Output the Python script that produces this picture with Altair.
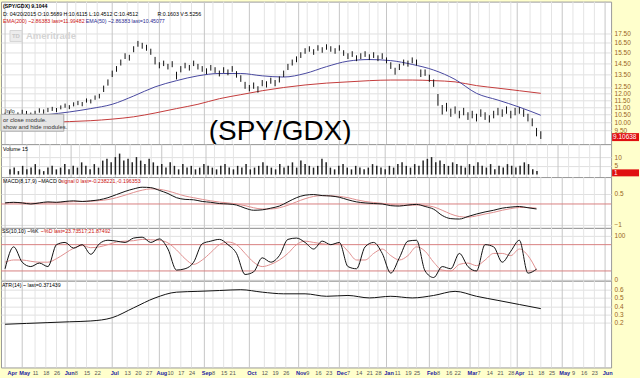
import altair as alt
import pandas as pd
import numpy as np

# ---------------- calendar / x axis ----------------
HOLIDAYS = ["2014-05-26", "2014-07-04", "2014-09-01", "2014-11-27", "2014-12-25",
            "2015-01-01", "2015-01-19", "2015-02-16", "2015-04-03", "2015-05-25"]
TRADING_DAYS = pd.bdate_range("2014-04-21", "2015-06-30", freq="C", holidays=HOLIDAYS)

tick_dates = ["2014-04-21", "2014-05-01", "2014-05-11", "2014-05-18", "2014-05-26", "2014-06-01",
              "2014-06-08", "2014-06-15", "2014-06-22", "2014-07-01", "2014-07-13", "2014-07-20",
              "2014-07-27", "2014-08-01", "2014-08-10", "2014-08-17", "2014-08-24", "2014-09-01",
              "2014-09-08", "2014-09-15", "2014-09-21", "2014-10-01", "2014-10-12", "2014-10-19",
              "2014-10-26", "2014-11-01", "2014-11-09", "2014-11-16", "2014-11-23", "2014-12-01",
              "2014-12-07", "2014-12-14", "2014-12-21", "2014-12-28", "2015-01-01", "2015-01-11",
              "2015-01-19", "2015-01-25", "2015-02-01", "2015-02-08", "2015-02-16", "2015-02-22",
              "2015-03-01", "2015-03-07", "2015-03-14", "2015-03-21", "2015-03-28", "2015-04-01",
              "2015-04-11", "2015-04-18", "2015-04-25", "2015-05-01", "2015-05-09", "2015-05-16",
              "2015-05-23", "2015-06-01"]
tick_texts = ["Apr", "May", "11", "18", "26", "Jun", "8", "15", "22", "Jul", "13", "20",
              "27", "Aug", "10", "17", "24", "Sep", "8", "15", "21", "Oct", "12", "19",
              "26", "Nov", "9", "16", "23", "Dec", "7", "14", "21", "28", "Jan", "11",
              "19", "25", "Feb", "8", "16", "22", "Mar", "7", "14", "21", "28", "Apr",
              "11", "18", "25", "May", "9", "16", "23", "Jun"]
MONTHS = {"Jan", "Feb", "Mar", "Apr", "May", "Jun", "Jul", "Aug", "Sep", "Oct", "Nov", "Dec"}

tick_idx = []
for d, t in zip(tick_dates, tick_texts):
    ts = pd.Timestamp(d)
    if t in MONTHS:
        tick_idx.append(int(np.searchsorted(TRADING_DAYS, ts, side="left")))
    else:
        tick_idx.append(int(np.searchsorted(TRADING_DAYS, ts, side="right") - 1))
month_idx = [i for i, t in zip(tick_idx, tick_texts) if t in MONTHS]

idx_js = "[" + ",".join(str(i) for i in tick_idx) + "]"
txt_js = "[" + ",".join("'" + t + "'" for t in tick_texts) + "]"
mon_js = "[" + ",".join(str(i) for i in month_idx) + "]"
LABEL_EXPR = txt_js + "[indexof(" + idx_js + ", datum.value)]"
IS_MONTH = "indexof(" + mon_js + ", datum.value) >= 0"

# ---------------- data ----------------
price_day = list(range(0, 251, 2))
price_lo = [10.35, 10.45, 10.28, 10.38, 10.52, 10.46, 10.36, 10.48, 10.62, 10.55, 10.66, 10.74,
            10.66, 10.85, 10.96, 10.86, 11.05, 11.14, 11.06, 11.32, 11.26, 11.52, 11.62, 12.1,
            12.6, 13.3, 13.75, 14.3, 14.9, 14.75, 15.55, 16.1, 15.9, 15.7, 15.3, 14.4,
            14.05, 14.25, 13.95, 14.15, 13.1, 13.7, 14.05, 13.85, 14.25, 13.95, 13.75, 13.55,
            13.85, 13.65, 13.35, 13.65, 13.45, 13.75, 13.25, 12.9, 12.35, 12.15, 12.35, 12.05,
            12.55, 12.45, 12.75, 12.55, 12.85, 13.3, 13.9, 14.3, 14.6, 15.0, 15.4, 15.6,
            15.3, 15.7, 15.5, 15.8, 15.6, 15.4, 15.7, 15.2, 14.9, 15.1, 14.7, 14.9,
            15.1, 14.8, 15.0, 14.7, 14.9, 14.5, 14.0, 13.5, 13.9, 14.3, 14.2, 14.5,
            14.3, 13.3, 13.4, 12.9, 12.5, 11.1, 10.5, 10.7, 10.35, 10.55, 10.25, 10.45,
            10.15, 10.25, 10.05, 10.35, 10.15, 9.98, 10.25, 10.45, 10.35, 10.55, 10.25, 10.45,
            10.55, 10.35, 10.05, 9.75, 9.15, 9.0]
price_hi = [10.62, 10.72, 10.55, 10.64, 10.82, 10.74, 10.63, 10.75, 10.92, 10.84, 10.95, 11.02,
            10.94, 11.12, 11.25, 11.14, 11.34, 11.44, 11.36, 11.62, 11.55, 11.84, 11.96, 12.6,
            13.1, 13.85, 14.25, 14.85, 15.45, 15.3, 16.15, 16.7, 16.5, 16.3, 15.9, 15.1,
            14.6, 14.75, 14.45, 14.7, 13.75, 14.25, 14.55, 14.35, 14.75, 14.45, 14.25, 14.05,
            14.35, 14.15, 13.85, 14.15, 13.95, 14.25, 13.8, 13.45, 12.9, 12.65, 12.85, 12.55,
            13.05, 12.95, 13.25, 13.05, 13.35, 13.85, 14.45, 14.85, 15.15, 15.55, 15.95, 16.15,
            15.85, 16.25, 16.05, 16.35, 16.15, 15.95, 16.25, 15.75, 15.45, 15.65, 15.25, 15.45,
            15.65, 15.35, 15.55, 15.25, 15.45, 15.05, 14.6, 14.1, 14.45, 14.85, 14.75, 15.05,
            14.85, 13.95, 13.95, 13.5, 13.1, 11.95, 11.15, 11.3, 10.9, 11.05, 10.75, 10.95,
            10.65, 10.75, 10.55, 10.85, 10.65, 10.45, 10.75, 10.95, 10.85, 11.05, 10.75, 10.95,
            11.0, 10.85, 10.55, 10.25, 9.65, 9.45]
price_last = 9.10638

ema_day = [0, 20, 40, 50, 60, 70, 80, 90, 100, 110, 120, 130, 140, 150, 160, 170, 180, 190,
           200, 210, 220, 230, 240, 250]
ema50 = [10.3, 10.5, 10.9, 11.2, 11.8, 12.5, 13.0, 13.4, 13.6, 13.6, 13.4, 13.3, 13.6, 14.2,
         14.7, 14.85, 14.75, 14.4, 13.9, 13.1, 12.0, 11.5, 11.0, 10.45]
ema200 = [9.9, 10.0, 10.1, 10.2, 10.35, 10.6, 10.9, 11.2, 11.6, 11.9, 12.2, 12.45, 12.65, 12.8,
          12.9, 13.0, 13.05, 13.05, 13.0, 12.9, 12.6, 12.4, 12.2, 12.0]

vol_day = price_day
volume = [3, 4, 2, 5, 3, 4, 6, 3, 2, 4, 5, 3,
          4, 6, 3, 5, 4, 7, 5, 3, 6, 4, 8, 9,
          7, 10, 12, 8, 9, 7, 10, 8, 6, 9, 7, 5,
          6, 4, 7, 5, 3, 6, 4, 5, 3, 4, 6, 5,
          4, 3, 5, 6, 4, 3, 5, 4, 6, 3, 4, 5,
          7, 5, 4, 3, 6, 4, 5, 7, 4, 8, 6, 5,
          4, 5, 9, 7, 4, 3, 5, 6, 4, 3, 5, 4,
          3, 4, 6, 5, 4, 3, 5, 4, 6, 7, 5, 4,
          6, 5, 8, 9, 10, 7, 8, 6, 5, 7, 6, 5,
          4, 6, 5, 7, 5, 4, 6, 3, 5, 4, 6, 5,
          4, 5, 7, 6, 3, 2]
volume_last = 1

osc_day = list(range(0, 249, 4))
macd = [0.05, 0.08, 0.05, 0.0, 0.05, 0.1, 0.08, 0.12, 0.15, 0.12, 0.15, 0.2, 0.3, 0.45, 0.6, 0.72,
        0.8, 0.78, 0.65, 0.5, 0.3, 0.22, 0.2, 0.12, 0.08, 0.02, 0.0, -0.05, -0.2, -0.3, -0.28, -0.2,
        -0.1, 0.1, 0.3, 0.42, 0.45, 0.4, 0.38, 0.32, 0.2, 0.1, 0.05, 0.02, 0.0, -0.08, -0.1, -0.05,
        -0.02, -0.12, -0.25, -0.55, -0.7, -0.72, -0.6, -0.48, -0.38, -0.3, -0.2, -0.15, -0.12, -0.18,
        -0.24]
signal = [0.05, 0.06, 0.06, 0.04, 0.04, 0.06, 0.07, 0.09, 0.11, 0.12, 0.13, 0.16, 0.21, 0.3, 0.42,
          0.55, 0.66, 0.72, 0.7, 0.62, 0.5, 0.38, 0.3, 0.22, 0.15, 0.09, 0.05, 0.0, -0.08, -0.18,
          -0.24, -0.24, -0.18, -0.06, 0.1, 0.25, 0.36, 0.4, 0.39, 0.36, 0.3, 0.2, 0.12, 0.07, 0.03,
          -0.02, -0.06, -0.07, -0.05, -0.07, -0.14, -0.3, -0.48, -0.6, -0.63, -0.57, -0.48, -0.4,
          -0.3, -0.22, -0.17, -0.17, -0.2]
pct_k = [25, 75, 40, 30, 38, 30, 80, 85, 72, 80, 58, 82, 90, 88, 85, 95, 97, 85, 93, 70, 22, 25,
         40, 82, 88, 92, 80, 60, 12, 18, 50, 40, 55, 92, 95, 85, 70, 88, 80, 85, 30, 25, 75, 85,
         60, 15, 50, 88, 90, 20, 5, 30, 25, 60, 30, 20, 80, 75, 40, 65, 90, 15, 24]
pct_d = [40, 45, 45, 42, 40, 40, 48, 60, 72, 78, 73, 75, 80, 86, 88, 89, 92, 91, 90, 84, 68, 48,
         35, 45, 62, 80, 86, 80, 60, 40, 30, 35, 45, 60, 80, 88, 85, 82, 80, 82, 65, 45, 45, 60,
         70, 55, 45, 55, 75, 65, 40, 22, 20, 35, 38, 32, 45, 60, 60, 55, 70, 55, 22]
ss_levels = [20, 80]

atr_day = list(range(0, 251, 10))
atr = [0.18, 0.19, 0.2, 0.21, 0.22, 0.26, 0.38, 0.5, 0.57, 0.58, 0.59, 0.6, 0.57, 0.55, 0.55,
       0.52, 0.53, 0.5, 0.52, 0.5, 0.53, 0.58, 0.52, 0.47, 0.42, 0.37]

# ---------------- styling helpers ----------------
FONT = "Liberation Sans"
FS = 5.3
W = 612
XSCALE = alt.Scale(domain=[-1.9, 282.8], nice=False, zero=False)
AX_COLOR = "#9a6420"
ONE = pd.DataFrame({"k": [0]})
grid_df = pd.DataFrame({"day": tick_idx, "month": [t in MONTHS for t in tick_texts]})


def xenc(field, bottom=False):
    if bottom:
        ax = alt.Axis(values=tick_idx, labelExpr=LABEL_EXPR, grid=False,
                      ticks=False, domain=False, title=None, labelFontSize=5.6, labelFont=FONT,
                      labelColor=alt.condition(IS_MONTH, alt.value("#1c1ca0"), alt.value("#555555")),
                      labelFontWeight=alt.condition(IS_MONTH, alt.value("bold"), alt.value("normal")),
                      labelOffset=alt.condition(IS_MONTH, alt.value(2), alt.value(0)),
                      labelPadding=3, labelOverlap=False, labelFlush=5)
        return alt.X(field + ":Q", scale=XSCALE, axis=ax)
    return alt.X(field + ":Q", scale=XSCALE, axis=None)


def vgrid(bottom=False):
    return alt.Chart(grid_df).mark_rule(strokeWidth=1).encode(
        x=xenc("day", bottom),
        color=alt.condition("datum.month", alt.value("#c6c6c6"), alt.value("#e4e4e4")))


def yaxis(values, fmt):
    return alt.Axis(orient="right", values=values, format=fmt, labelColor=AX_COLOR, labelFontSize=6.5,
                    labelFont=FONT, labelPadding=3, ticks=False, domain=False, grid=True,
                    gridColor="#e0e0e0", title=None, labelOverlap=False)


def txt(s, px, py, color="black", size=FS, weight="normal", align="left", font=FONT, baseline="middle"):
    return alt.Chart(ONE).mark_text(text=s, align=align, baseline=baseline, fontSize=size, font=font,
                                    color=color, fontWeight=weight).encode(x=alt.value(px), y=alt.value(py))


# ---------------- price panel ----------------
price_df = pd.DataFrame({"day": price_day, "lo": price_lo, "hi": price_hi})
ema_df = pd.DataFrame({"day": ema_day, "ema50": ema50, "ema200": ema200})
PSCALE = alt.Scale(type="log", domain=[8.71, 21.4], nice=False, zero=False)
p_ticks = [9.5, 10.0, 10.5, 11.0, 11.5, 12.0, 12.5, 13.5, 14.5, 15.5, 16.5, 17.5]

price_bars = alt.Chart(price_df).mark_rule(color="#111111", strokeWidth=1).encode(
    x=xenc("day"), y=alt.Y("lo:Q", scale=PSCALE, axis=yaxis(p_ticks, ".2f")), y2="hi:Q")
ema200_line = alt.Chart(ema_df).mark_line(color="#c43c3c", strokeWidth=1, interpolate="monotone").encode(
    x=xenc("day"), y=alt.Y("ema200:Q", scale=PSCALE))
ema50_line = alt.Chart(ema_df).mark_line(color="#4848a0", strokeWidth=1, interpolate="monotone").encode(
    x=xenc("day"), y=alt.Y("ema50:Q", scale=PSCALE))
last_df = pd.DataFrame({"v": [price_last], "t": ["9.10638"]})
last_box = alt.Chart(last_df).mark_tick(color="#e01010", orient="horizontal", size=27, thickness=8,
                                        opacity=1).encode(x=alt.value(626.5), y=alt.Y("v:Q", scale=PSCALE))
last_txt = alt.Chart(last_df).mark_text(color="white", align="left", fontSize=6.5, font=FONT).encode(
    x=alt.value(614), y=alt.Y("v:Q", scale=PSCALE), text="t:N")

tooltip_box = alt.Chart(ONE).mark_rect(fill="#e6e6e6", stroke="#a8a8a8", strokeWidth=1).encode(
    x=alt.value(0), x2=alt.value(63), y=alt.value(113), y2=alt.value(130))
logo_box = alt.Chart(ONE).mark_rect(fill="#ececec", stroke="#d6d6d6").encode(
    x=alt.value(9), x2=alt.value(21), y=alt.value(29), y2=alt.value(40))

price = alt.layer(
    vgrid(), ema200_line, ema50_line, price_bars, tooltip_box,
    txt("Info", 4, 110, color="#444444", size=6),
    txt("or close module.", 2, 118.5, color="#333333", size=6),
    txt("show and hide modules.", 2, 125.5, color="#333333", size=6),
    logo_box, txt("TD", 15, 35, color="#c8c8c8", size=6, weight="bold", align="center"),
    txt("Ameritrade", 25, 35, color="#d4d4d4", size=9.5, weight="bold"),
    txt("(SPY/GDX)", 280, 139, size=28, align="center", baseline="alphabetic"),
    txt("(SPY/GDX)  9.1044", 2, 4, weight="bold"),
    txt("D: 04/20/2015  O:10.5689  H:10.6115  L:10.4512  C:10.4512", 2, 12),
    txt("R:0.1603  V:5.5256", 157, 12),
    txt("EMA(200) ~2.86383 last=11.99482", 2, 19.5, color="#cc1010"),
    txt("EMA(50) ~2.86383 last=10.45077", 85, 19.5, color="#2a2a90"),
    last_box, last_txt,
).properties(width=W, height=143)

# ---------------- volume panel ----------------
vol_df = pd.DataFrame({"day": vol_day, "vol": volume})
VSCALE = alt.Scale(domain=[-1.4, 17.4], nice=False, zero=False)
vol_bars = alt.Chart(vol_df).mark_bar(color="#222222", width=1.5).encode(
    x=xenc("day"), y=alt.Y("vol:Q", scale=VSCALE, axis=yaxis([5, 10], "d")), y2=alt.datum(0))
vlast_df = pd.DataFrame({"v": [volume_last], "t": ["1"]})
vlast_box = alt.Chart(vlast_df).mark_tick(color="#e01010", orient="horizontal", size=27, thickness=7,
                                          opacity=1).encode(x=alt.value(626.5), y=alt.Y("v:Q", scale=VSCALE))
vlast_txt = alt.Chart(vlast_df).mark_text(color="white", align="left", fontSize=6.5, font=FONT).encode(
    x=alt.value(615), y=alt.Y("v:Q", scale=VSCALE), text="t:N")
volume_panel = alt.layer(vgrid(), vol_bars, txt("Volume 15", 2, 4.5), vlast_box, vlast_txt).properties(
    width=W, height=33)

# ---------------- MACD panel ----------------
osc_df = pd.DataFrame({"day": osc_day, "macd": macd, "signal": signal, "k": pct_k, "d": pct_d})
MSCALE = alt.Scale(domain=[-1.143, 1.286], nice=False, zero=False)
zero_df = pd.DataFrame({"z": [0]})
macd_zero = alt.Chart(zero_df).mark_rule(color="#d88080", strokeWidth=1).encode(
    y=alt.Y("z:Q", scale=MSCALE, axis=yaxis([-1, -0.5, 0, 0.5], "~g")))
macd_line = alt.Chart(osc_df).mark_line(color="#111111", strokeWidth=1, interpolate="monotone").encode(
    x=xenc("day"), y=alt.Y("macd:Q", scale=MSCALE))
signal_line = alt.Chart(osc_df).mark_line(color="#e09090", strokeWidth=1, interpolate="monotone").encode(
    x=xenc("day"), y=alt.Y("signal:Q", scale=MSCALE))
macd_panel = alt.layer(
    vgrid(), macd_zero, signal_line, macd_line,
    txt("MACD(8,17,9) ~MACD 0", 2, 3.5),
    txt("signal 0 last=-0.238221,-0.196353", 60, 3.5, color="#cc1010"),
).properties(width=W, height=51)

# ---------------- SS panel ----------------
SSCALE = alt.Scale(domain=[-2.3, 118.2], nice=False, zero=False)
lvl_df = pd.DataFrame({"lvl": ss_levels})
ss_lvls = alt.Chart(lvl_df).mark_rule(color="#d88080", strokeWidth=1).encode(
    y=alt.Y("lvl:Q", scale=SSCALE, axis=yaxis([0, 25, 50, 75, 100], "d")))
d_line = alt.Chart(osc_df).mark_line(color="#e09090", strokeWidth=1, interpolate="monotone").encode(
    x=xenc("day"), y=alt.Y("d:Q", scale=SSCALE))
k_line = alt.Chart(osc_df).mark_line(color="#111111", strokeWidth=1, interpolate="monotone").encode(
    x=xenc("day"), y=alt.Y("k:Q", scale=SSCALE))
ss_panel = alt.layer(
    vgrid(), ss_lvls, d_line, k_line,
    txt("SS(10,10) ~%K", 1, 3.5),
    txt("~%D last=23.73517;21.87492", 40, 3.5, color="#cc1010"),
).properties(width=W, height=53)

# ---------------- ATR panel ----------------
atr_df = pd.DataFrame({"day": atr_day, "atr": atr})
ASCALE = alt.Scale(domain=[-0.345, 0.709], nice=False, zero=False)
atr_line = alt.Chart(atr_df).mark_line(color="#111111", strokeWidth=1, interpolate="monotone").encode(
    x=xenc("day", bottom=True),
    y=alt.Y("atr:Q", scale=ASCALE, axis=yaxis([0.2, 0.3, 0.4, 0.5, 0.6], ".1f")))
atr_panel = alt.layer(vgrid(bottom=True), atr_line, txt("ATR(14) ~ last=0.371439", 1, 4.5)).properties(
    width=W, height=87)

chart = alt.vconcat(price, volume_panel, macd_panel, ss_panel, atr_panel, spacing=0, bounds="flush").properties(
    padding={"left": 0, "top": 0, "right": 0, "bottom": 11}, background="#ffffcc"
).configure_view(stroke="#9a9a9a", fill="white").resolve_scale(y="independent")

chart.save("out.html", embed_options={"renderer": "svg", "actions": False})
